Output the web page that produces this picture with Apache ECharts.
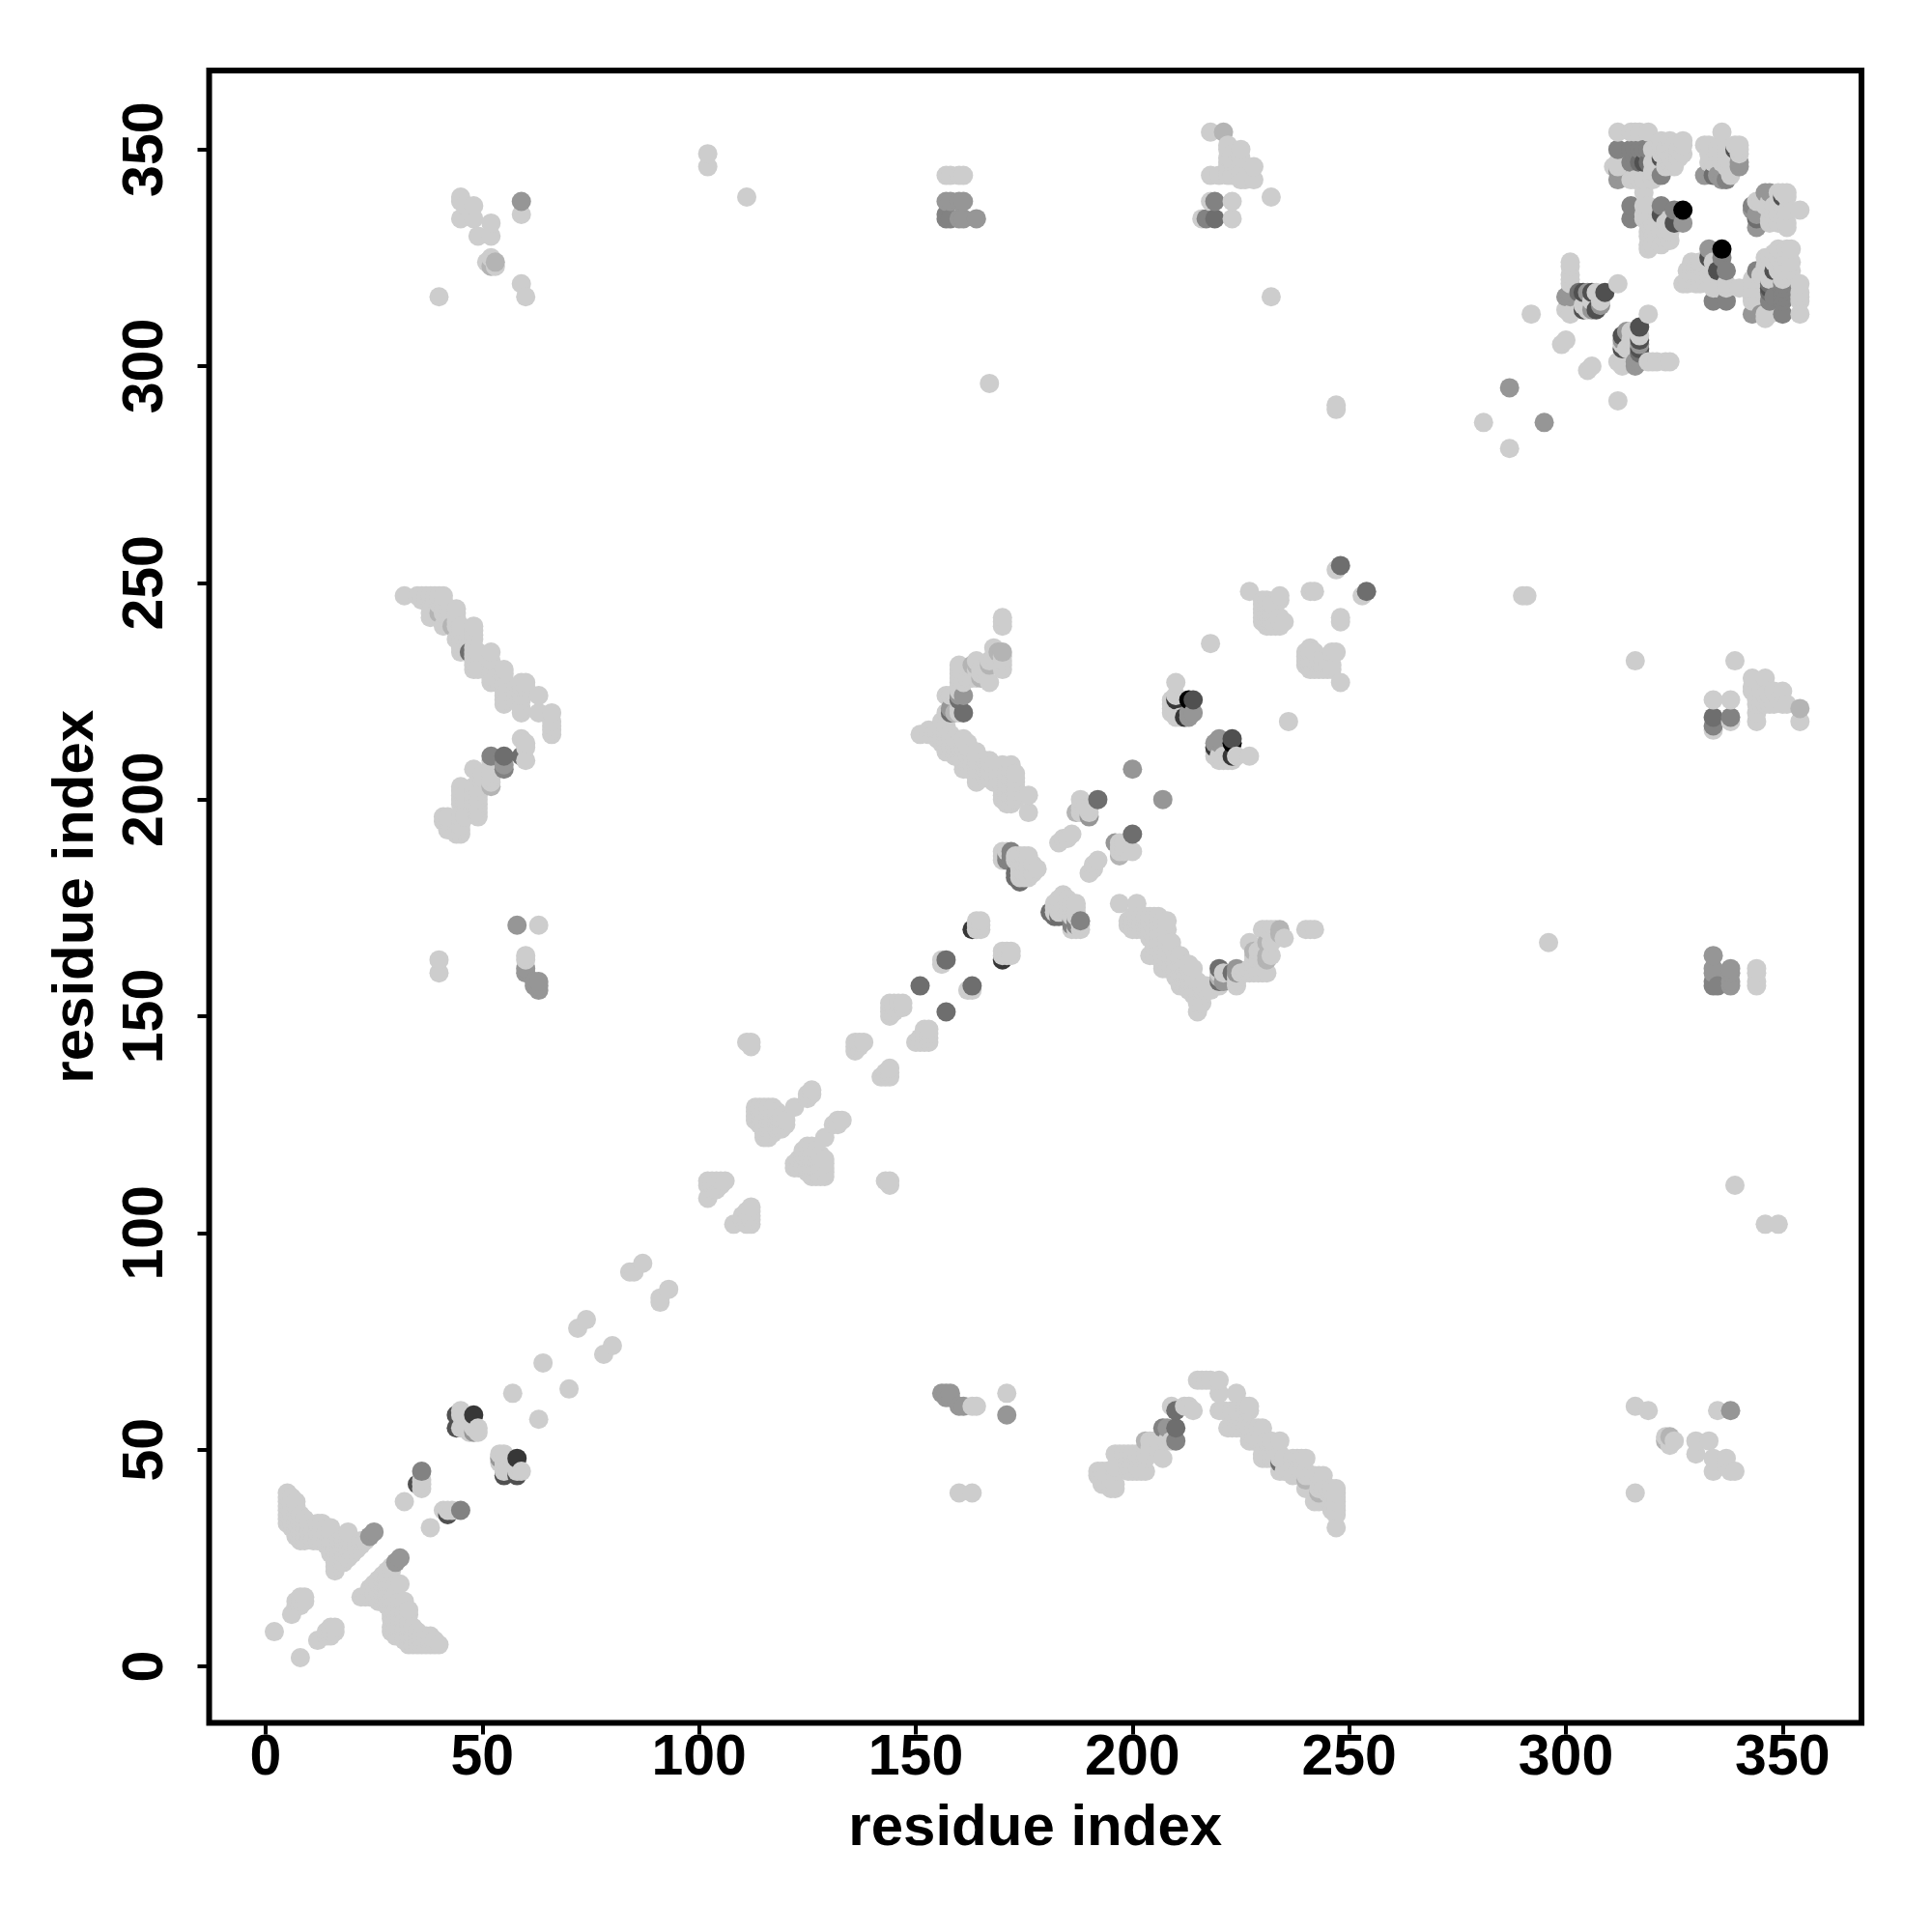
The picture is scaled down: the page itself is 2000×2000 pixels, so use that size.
<!DOCTYPE html>
<html>
<head>
<meta charset="utf-8">
<style>html,body{margin:0;padding:0;background:#fff}#c{width:2000px;height:2000px}</style>
<script src="https://cdn.jsdelivr.net/npm/echarts@6/dist/echarts.min.js"></script>
</head>
<body>
<div id="c"></div>
<script>
const tickValues = [0, 50, 100, 150, 200, 250, 300, 350];
const axisTitle = 'residue index';

// Contact map: each pair is a residue contact, the map is symmetric.
const lightNearOrigin = [[8,2],[12,6],[14,7],[15,7],[14,8],[15,8],[16,8],[15,9],[16,9],
 [22,16],[23,16],[24,16],[25,16],[26,16],[27,16],[28,16],[25,17],[26,17],[27,17],[28,17],[29,17],
 [24,18],[26,18],[27,18],[28,18],[29,18],[30,18],[25,19],[26,19],[27,19],[28,19],[29,19],[30,19],[31,19],
 [26,20],[27,20],[28,20],[27,21],[28,21],[28,22],[29,22],[29,23],
 [26,15],[27,15],[28,15],[29,15],[30,15],[31,15],[32,15],[28,14],[29,14],[30,14],[31,14],[32,14],
 [29,13],[30,13],[31,13],[32,13],[33,13],[29,12],[30,12],[31,12],[32,12],[33,12],[29,11],[30,11],[31,11],[32,11],
 [30,10],[31,10],[32,10],[33,10],[29,9],[30,9],[31,9],[32,9],[33,9],[34,9],
 [29,8],[30,8],[31,8],[32,8],[33,8],[34,8],[35,8],[30,7],[31,7],[32,7],[33,7],[34,7],[35,7],[36,7],[37,7],[38,7],
 [32,6],[33,6],[34,6],[35,6],[36,6],[37,6],[38,6],[39,6],[33,5],[34,5],[35,5],[36,5],[37,5],[38,5],[39,5],[40,5],
 [38,32],[41,36],[42,36],[43,36],[55,45],[55,46],[55,47],[55,48],[55,49],[54,49],[54,47],[56,46],[58,45],[59,45],[57,46],
 [63,57],[70,64],[78,72],[80,74],[91,84],[91,85],[93,87]];

const lightBlocks100 = [[108,102],[111,102],[112,102],[110,103],[111,103],[112,103],[110,104],[111,104],[112,104],[111,105],[112,105],[112,106],
 [113,129],[114,129],[115,129],[116,129],[117,129],[113,128],[114,128],[115,128],[116,128],[117,128],[118,128],
 [113,127],[114,127],[115,127],[116,127],[117,127],[118,127],[119,127],
 [113,126],[114,126],[115,126],[116,126],[117,126],[118,126],[119,126],[120,126],
 [114,125],[115,125],[116,125],[117,125],[118,125],[119,125],[120,125],
 [115,124],[116,124],[117,124],[118,124],[119,124],[115,123],[116,123],[117,123],[115,122],[116,122],
 [122,129],[131,125],[132,125],[132,126],[133,126],
 [143,112],[144,112],[144,111],[142,136],[143,136],[144,136],[143,137],[144,137],[144,138],
 [150,144],[151,144],[152,144],[153,144],[151,145],[152,145],[153,145],[152,146],[153,146],[152,147],[153,147],
 [162,156],[163,156],[170,164],[171,164],[172,164],[170,165],[171,165],[172,165]];

const lightBlob175 = [[182,175],[182,176],[183,175],[183,176],[183,177],[184,175],[184,176],[184,177],[184,178],
 [185,174],[185,175],[185,176],[185,177],[186,173],[186,174],[186,175],[186,176],[187,170],[187,173],[187,174],[187,175],[187,176],
 [186,170],[188,170],[188,171],[190,183],[191,184],[191,185],[192,186],
 [184,174],[183,174],[182,174],[197,188],[197,189],[197,190],[198,188],[198,189],[198,190],[200,188]];

const lightValley = [[197,176],[201,176],[200,173],[201,173],[202,173],[203,173],[204,173],[205,173],[206,173],
 [199,172],[200,172],[201,172],[202,172],[203,172],[204,172],[205,172],[206,172],[207,172],[208,172],
 [199,171],[200,171],[201,171],[202,171],[203,171],[204,171],[205,171],[206,171],[200,170],[201,170],[202,170],[203,170],[204,170],[205,170],[206,170],[207,170],[208,170],
 [204,169],[205,169],[206,169],[207,169],[204,168],[205,168],[206,168],[207,168],[208,168],[205,167],[206,167],[207,167],[208,167],[209,167],[205,166],[206,166],[207,166],[208,166],[209,166],
 [204,164],[205,164],[207,164],[208,164],[209,164],[210,164],[211,164],[208,163],[209,163],[210,163],[211,163],
 [207,162],[208,162],[209,162],[210,162],[211,162],[212,162],[213,162],[207,161],[208,161],[209,161],[210,161],[211,161],[212,161],[213,161],[214,161],
 [210,160],[211,160],[212,160],[213,160],[210,159],[211,159],[212,159],[213,159],[214,159],[211,158],[212,158],[213,158],[214,158],[215,158],
 [211,157],[212,157],[213,157],[214,157],[215,157],[216,157],[217,157],[213,156],[214,156],[215,156],[216,156],[217,156],[218,156],[214,155],[215,155],[216,155],[215,154],[215,153],[216,153],[215,151],
 [220,160],[221,160],[220,157],[224,159],[224,158],[224,157],[225,160],[226,160],[227,160],[228,160],[229,160],[230,160],[231,160],
 [227,161],[228,162],[228,163],[229,163],[230,163],[228,164],[230,164],[232,164],[229,165],[230,165],[230,166],[227,167],[230,170],[231,170],[232,170],[233,170],[235,168],[233,168],[232,167],[240,170],[241,170],[242,170],
 [227,210],[223,209],[220,210],[219,211],[221,209],[224,210],[222,209],[220,209],[219,210],[222,210],[221,210]];

const lightArch40 = [[215,66],[216,66],[217,66],[218,66],[220,66],[220,63],[224,63],[220,59],[221,59],[223,59],[224,59],[226,59],[227,60],[227,59],[226,60],
 [222,55],[223,55],[224,55],[225,55],[226,55],[227,55],[228,55],[229,55],[230,55],[227,54],[228,53],[227,52],[228,52],[229,52],[230,52],[231,52],[232,52],[234,52],
 [230,49],[230,48],[231,48],[232,48],[233,48],[234,48],[235,48],[234,49],[234,45],[235,45],[236,45],[237,48],[238,48],[239,48],[240,48],[237,44],[238,45],[239,45],[240,45],[240,44],[241,44],[242,44],[243,44],[244,44],
 [240,41],[243,41],[242,38],[243,38],[244,41],[245,41],[246,41],[247,41],[245,40],[246,40],[247,40],[246,39],[247,39],[246,38],[247,38],[246,37],[247,37],[246,36],[247,36],[247,35],[247,32],
 [209,60],[213,60],[214,59],[212,60],[207,48],[196,49],[197,49],[198,49],[199,49],[200,49],[201,49],[202,49],[203,49],[199,48],[200,48],[201,48],[202,48],[203,48],[199,46],[200,46],[201,46],[196,46],[196,45],[199,45],[200,45],[201,45],[202,45],[203,45],[192,45],[193,45],[194,45],[193,42],[194,42],[195,42],[196,42],[196,41],[195,41],[192,44],
 [204,52],[205,52],[206,52],[208,52],[209,52],[210,52],[205,50],[206,50],[204,50],
 [163,60],[164,60],[171,63],[160,40],[163,40]];

const lightFarRight = [[316,60],[319,59],[335,59],[324,51],[325,52],[323,53],[330,52],[333,52],[330,49],[334,48],[337,48],[337,46],[334,45],[338,45],[339,45],[316,40],
 [346,102],[349,102],[339,111],[296,167],[290,247],[291,247],[316,232],[339,232],[334,223],[334,216],[338,223],[338,218],
 [343,228],[346,228],[343,226],[343,225],[345,225],[346,224],[347,225],[348,225],[350,225],[344,223],[344,222],[344,220],[344,218],[345,222],[346,222],[347,224],[347,223],[347,222],[348,222],[349,223],[350,222],[351,222],[354,218],
 [344,157],[344,158],[344,160],[344,161],[227,248],[218,236],[247,234],[241,235],[248,241],[248,242],[253,247],[246,234],[245,232],
 [240,233],[240,232],[240,231],[241,232],[242,232],[243,232],[244,232],[245,231],[246,231],[241,231],[242,231],[243,231],[244,231],[241,230],[242,230],[243,230],[244,230],[245,230],[246,230],[241,234],[240,234],[248,227],
 [234,246],[230,245],[230,244],[230,243],[230,242],[230,241],[231,245],[231,243],[231,242],[231,241],[234,242],[235,241],[234,240],
 [281,287],[287,281],[305,299],[306,300],[312,292],[312,301],[319,301],[321,301],[324,301],[319,312],[317,307],[313,305],[314,304]];

const lightTopRight = [[354,312],[354,315],[354,316],[354,317],[354,319],[351,322],[352,324],[351,325],[351,327],[349,323],[349,325],[349,322],[350,321],[352,327],[350,326],[348,326],[348,324],[347,325],[347,324],[346,325],[350,323],[349,327],[347,320],[346,323],[346,312],[346,311],[343,315],[343,316],[343,318],[343,320],[352,322],
 [354,336],[351,340],[351,339],[350,340],[349,340],[351,336],[349,336],[347,336],[346,337],[347,333],[347,334],[344,338],[345,338],[348,337],[351,333],[351,332],[348,335],[349,333],[350,335],[350,337],[347,338],[349,338],
 [345,321],
 [318,340],[318,337],[318,335],[318,334],[320,333],[323,333],[319,331],[319,330],[319,328],[322,328],[323,329],[324,331],[321,333],[324,334],[320,331],[321,330],[322,331],[323,331],
 [327,319],[328,320],[328,322],[329,321],[329,324],[330,321],[330,323],[331,324],[332,320],[333,319],[334,319],[337,319],[340,318],
 [312,354],[315,354],[316,354],[319,354],[322,351],[324,352],[325,351],[327,351],[323,349],[325,349],[322,349],[321,350],[318,347],[320,347],[312,346],[312,347],[315,343],[316,343],[318,343],[317,343],[323,346],[324,347],[325,347],[320,345],[320,350],
 [336,354],[332,351],[333,351],[340,351],[340,350],[340,349],[336,351],[336,349],[336,347],[337,346],[333,347],[334,347],[338,344],[338,345],[337,348],[335,349],
 [301,324],[301,323],[301,321],[301,320],[300,313],[304,313],[307,313],[308,315],[306,315]];

const tone180 = [[203,52],[240,43],[243,40],[231,167],[231,163],[231,164],[228,165],[197,187],[234,169],[234,170],[220,159],[354,221],[324,53],[323,52],[317,350],[315,350]];
const tone150 = [[31,25],[30,24],[54,48],[188,172],[186,172],[187,172],[187,171],[186,171],[207,200],[295,287],[343,312],[350,312],[345,312],[338,59],[207,55],[208,55],[221,158],[224,160],[224,161],[220,161],[220,213],[220,214],[219,213],
 [171,58],[156,63],[157,62],[157,63],[158,62],[158,63],[160,60],[161,60],
 [334,164],[334,161],[334,160],[338,161],[338,160],[338,158],[338,157],[315,334],[315,337],[327,333],[347,315],[348,316],[312,343],[312,345],[316,300],[317,301],[317,306],[317,305],[313,306],[314,308],[300,316],[301,316],[308,314],[196,190],[340,346],[340,347],[332,344],[335,344],[337,343],[343,337],[343,336],[344,332],[346,340],[347,340]];
const tone130 = [[45,36],[210,55],[210,52],[334,157],[334,158],[335,157],[338,219],[334,217],[172,188],[171,187],[172,187],[171,186],[172,186],
 [322,337],[325,336],[322,344],[344,322],[315,347],[315,350],[316,350],[316,348],[318,350],[319,350],[350,315],[350,316],[350,317],[350,318],[350,319],[312,350],
 [55,207],[337,322],[337,315],[334,315],[337,343]];
const tone110 = [[210,59],[55,210],[334,219],[334,344],[317,304],[317,303],[200,192],[248,254],[254,248],[157,151],[163,157],[220,158],[220,161],[223,160],[47,234],[347,317],[344,334],[319,347],[181,174],[183,173],[182,173]];
const tone80 = [[55,44],[58,44],[42,35],[223,214],[317,309],[325,333],[339,350],[348,322],[322,335],[322,348],[347,318],[313,307],[313,304],[304,317],[306,317]];
const tone55 = [[58,48],[170,163],[223,210],[219,212]];
const tone0 = [[336,327],[223,213]];

const groups = [
  [205, lightNearOrigin.concat(lightBlocks100, lightBlob175, lightValley, lightArch40, lightFarRight, lightTopRight)],
  [180, tone180], [150, tone150], [130, tone130], [110, tone110], [80, tone80], [55, tone55], [0, tone0]
];

const points = [];
const seen = {};
groups.forEach(function (g) {
  g[1].forEach(function (p) {
    [[p[0], p[1]], [p[1], p[0]]].forEach(function (q) {
      const k = q[0] + '_' + q[1];
      if (seen[k] !== undefined) { points[seen[k]][2] = g[0]; }
      else { seen[k] = points.length; points.push([q[0], q[1], g[0]]); }
    });
  });
});
points.sort(function (a, b) { return a[0] - b[0] || a[1] - b[1]; });

const FONT = '"Liberation Sans"';
function axis(isX) {
  return {
    type: 'value',
    min: -13.04,
    max: 368.2,
    name: axisTitle,
    nameLocation: 'middle',
    nameGap: isX ? 80 : 107,
    nameRotate: isX ? 0 : 90,
    nameMoveOverlap: false,
    nameTextStyle: { fontFamily: FONT, fontWeight: 'bold', fontSize: 60, color: '#000' },
    splitLine: { show: false },
    axisLine: { show: false, onZero: false },
    axisTick: { show: true, length: 12, customValues: tickValues, lineStyle: { color: '#000', width: 4 } },
    axisLabel: {
      show: true, customValues: tickValues, margin: isX ? 8 : 35, rotate: isX ? 0 : 90,
      fontFamily: FONT, fontWeight: 'bold', fontSize: 59, color: '#000',
      formatter: function (v) { return String(v); }
    }
  };
}

const chart = echarts.init(document.getElementById('c'), null, { renderer: 'canvas' });
chart.setOption({
  animation: false,
  backgroundColor: '#fff',
  grid: { left: 216.5, right: 73, top: 73, bottom: 216.5, show: true, borderColor: '#000', borderWidth: 6, backgroundColor: 'transparent' },
  xAxis: axis(true),
  yAxis: axis(false),
  series: [{
    type: 'scatter',
    data: points,
    symbol: 'circle',
    symbolSize: 20,
    progressive: 0,
    large: false,
    silent: true,
    clip: false,
    itemStyle: {
      opacity: 1,
      color: function (p) { const t = p.value[2]; return 'rgb(' + t + ',' + t + ',' + t + ')'; }
    }
  }]
});
</script>
</body>
</html>
